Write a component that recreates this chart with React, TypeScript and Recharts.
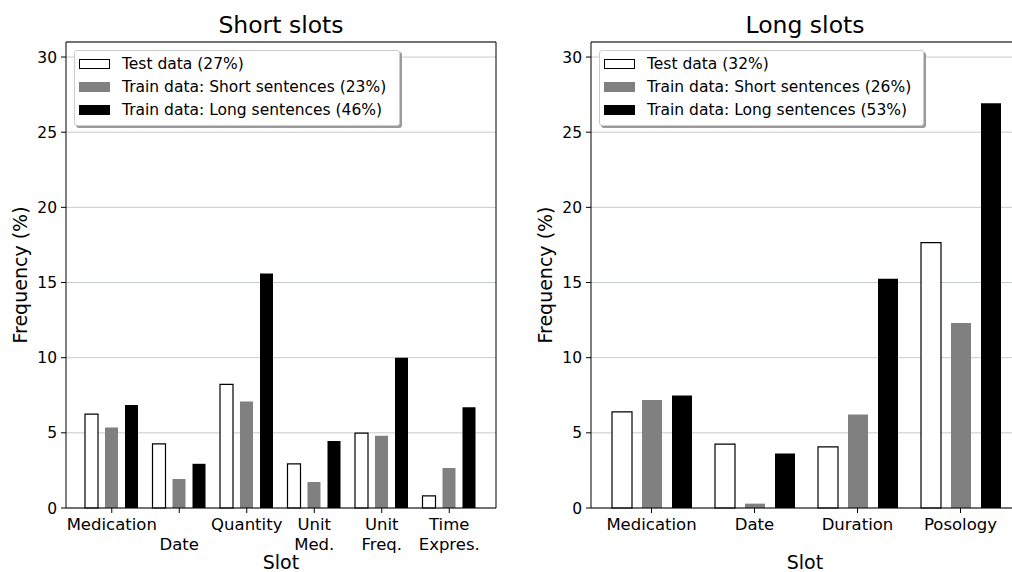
import React from "react";
import { BarChart, Bar, XAxis, YAxis, CartesianGrid, Legend } from "recharts";

// Short slots panel
const shortSlots = ["Medication", "\nDate", "Quantity", "Unit\nMed.", "Unit\nFreq.", "Time\nExpres."];
const shortTest = [6.24, 4.27, 8.23, 2.94, 4.98, 0.8];
const shortTrainShort = [5.35, 1.93, 7.08, 1.73, 4.8, 2.66];
const shortTrainLong = [6.86, 2.94, 15.6, 4.45, 10.0, 6.71];
const shortLegend = ["Test data (27%)", "Train data: Short sentences (23%)", "Train data: Long sentences (46%)"];

// Long slots panel
const longSlots = ["Medication", "Date", "Duration", "Posology"];
const longTest = [6.39, 4.25, 4.07, 17.66];
const longTrainShort = [7.19, 0.29, 6.22, 12.3];
const longTrainLong = [7.48, 3.63, 15.25, 26.93];
const longLegend = ["Test data (32%)", "Train data: Short sentences (26%)", "Train data: Long sentences (53%)"];

const yTicks = [0, 5, 10, 15, 20, 25, 30];

const FONT = "'DejaVu Sans', sans-serif";

const SERIES = [
  { key: "test", fill: "#ffffff", stroke: "#000000", strokeWidth: 1.2 },
  { key: "short", fill: "#808080", stroke: "none", strokeWidth: 0 },
  { key: "long", fill: "#000000", stroke: "none", strokeWidth: 0 },
];

function buildRows(slots: string[], a: number[], b: number[], c: number[]) {
  return slots.map((slot, i) => ({ slot, test: a[i], short: b[i], long: c[i] }));
}

function SlotTick(props: any) {
  const { x, y, payload } = props;
  const lines = String(payload.value).split("\n");
  return (
    <text textAnchor="middle" fontSize={16.5} fill="#000" fontFamily={FONT}>
      {lines.map((line, i) => (
        <tspan key={i} x={x} y={y + 15 + i * 20}>
          {line}
        </tspan>
      ))}
    </text>
  );
}

function LegendBox(props: any) {
  const items = [...(props.payload || [])].sort(
    (a: any, b: any) =>
      SERIES.findIndex((s) => s.key === a.dataKey) - SERIES.findIndex((s) => s.key === b.dataKey)
  );
  return (
    <div
      style={{
        border: "1px solid #cccccc",
        borderRadius: 3,
        background: "#fff",
        boxShadow: "2px 2px 0 #9a9a9a",
        padding: "1px 6px 4px 4px",
        fontFamily: FONT,
        fontSize: 15.5,
        color: "#000",
        boxSizing: "border-box",
      }}
    >
      {items.map((entry: any, i: number) => {
        const s = SERIES.find((d) => d.key === entry.dataKey) || SERIES[i];
        return (
          <div key={i} style={{ display: "flex", alignItems: "center", height: 23, whiteSpace: "nowrap" }}>
            <span
              style={{
                display: "inline-block",
                width: 31,
                height: 10,
                background: s.fill,
                border: s.stroke === "none" ? "none" : "1px solid #000",
                boxSizing: "border-box",
                marginRight: 12,
              }}
            />
            {entry.value}
          </div>
        );
      })}
    </div>
  );
}

interface PanelProps {
  rows: any[];
  names: string[];
  width: number;
  rightMargin: number;
  padding: { left: number; right: number };
  barSize: number;
  barGap: number;
  legendWidth: number;
}

function Panel({ rows, names, width, rightMargin, padding, barSize, barGap, legendWidth }: PanelProps) {
  return (
    <BarChart
      width={width}
      height={572}
      data={rows}
      margin={{ top: 41, right: rightMargin, left: 0, bottom: 0 }}
      barSize={barSize}
      barGap={barGap}
    >
      <CartesianGrid vertical={false} stroke="#c5cbcb" strokeWidth={1} />
      <XAxis
        dataKey="slot"
        height={64}
        padding={padding}
        interval={0}
        tick={<SlotTick />}
        tickSize={5}
        tickLine={{ stroke: "#000" }}
        axisLine={{ stroke: "#000" }}
      />
      <XAxis xAxisId="top" dataKey="slot" orientation="top" height={1} tick={false} tickLine={false} axisLine={{ stroke: "#000" }} />
      <YAxis
        type="number"
        domain={[0, 31]}
        ticks={yTicks}
        width={66}
        tickSize={5}
        tickMargin={4}
        tick={{ fontSize: 15.5, fill: "#000", fontFamily: FONT }}
        tickLine={{ stroke: "#000" }}
        axisLine={{ stroke: "#000" }}
      />
      <YAxis
        yAxisId="frame"
        type="number"
        orientation="right"
        domain={[0, 31]}
        width={1}
        tick={false}
        tickLine={false}
        axisLine={{ stroke: "#000" }}
      />
      <Legend
        layout="vertical"
        align="center"
        verticalAlign="middle"
        content={<LegendBox />}
        wrapperStyle={{ left: 74, top: 50, width: legendWidth, height: "auto" }}
      />
      {SERIES.map((s, i) => (
        <Bar
          key={s.key}
          dataKey={s.key}
          name={names[i]}
          fill={s.fill}
          stroke={s.stroke}
          strokeWidth={s.strokeWidth}
          isAnimationActive={false}
        />
      ))}
    </BarChart>
  );
}

export default function App() {
  const shortRows = buildRows(shortSlots, shortTest, shortTrainShort, shortTrainLong);
  const longRows = buildRows(longSlots, longTest, longTrainShort, longTrainLong);
  return (
    <div
      style={{
        position: "fixed",
        top: 0,
        left: 0,
        width: 1012,
        height: 572,
        overflow: "hidden",
        background: "#fff",
        fontFamily: FONT,
      }}
    >
      <div style={{ position: "absolute", left: 0, top: 0 }}>
        <Panel
          rows={shortRows}
          names={shortLegend}
          width={520}
          rightMargin={23}
          padding={{ left: 12, right: 13 }}
          barSize={13}
          barGap={7}
          legendWidth={326}
        />
      </div>
      <div style={{ position: "absolute", left: 525, top: 0 }}>
        <Panel
          rows={longRows}
          names={longLegend}
          width={505}
          rightMargin={9}
          padding={{ left: 9, right: 8 }}
          barSize={20}
          barGap={10}
          legendWidth={325}
        />
      </div>
      <svg
        width={1012}
        height={572}
        style={{ position: "absolute", left: 0, top: 0, pointerEvents: "none" }}
        fontFamily={FONT}
      >
        <text x={281} y={33} textAnchor="middle" fontSize={23.5} fill="#000">
          Short slots
        </text>
        <text x={805} y={33} textAnchor="middle" fontSize={23.5} fill="#000">
          Long slots
        </text>
        <text x={281} y={569} textAnchor="middle" fontSize={19} fill="#000">
          Slot
        </text>
        <text x={805} y={569} textAnchor="middle" fontSize={19} fill="#000">
          Slot
        </text>
        <text x={27} y={275} textAnchor="middle" fontSize={19} fill="#000" transform="rotate(-90 27 275)">
          Frequency (%)
        </text>
        <text x={552} y={275} textAnchor="middle" fontSize={19} fill="#000" transform="rotate(-90 552 275)">
          Frequency (%)
        </text>
      </svg>
    </div>
  );
}
